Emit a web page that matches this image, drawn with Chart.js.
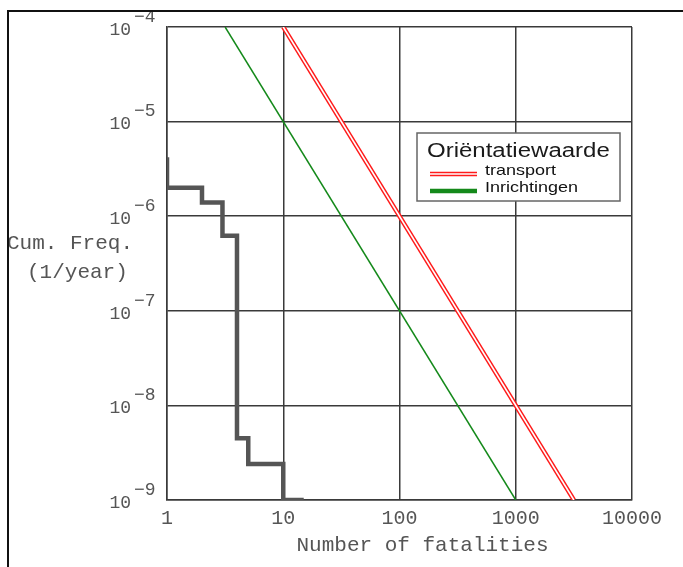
<!DOCTYPE html>
<html>
<head>
<meta charset="utf-8">
<script src="https://cdn.jsdelivr.net/npm/chart.js@4.4.1/dist/chart.umd.min.js"></script>
<style>
  html, body { margin: 0; padding: 0; background: #fff; }
  #wrap { position: relative; width: 683px; height: 567px; }
</style>
</head>
<body>
<div id="wrap"><canvas id="fn" width="683" height="567"></canvas></div>
<script>
// FN curve with orientation values (log-log)
const xTickValues = [1, 10, 100, 1000, 10000];
const xTickLabels = ['1', '10', '100', '1000', '10000'];
const yExponents = [-9, -8, -7, -6, -5, -4];

// cumulative frequency step curve (corner points, stepped 'after')
const stepN = [1, 2, 3, 4, 5, 10, 15];
const stepF = [4.2e-6, 2.0e-6, 1.4e-6, 6.2e-7, 4.5e-9, 2.4e-9, 1.0e-9];

// orientation value lines
const transportN = [10, 3162];
const transportF = [1e-4, 1e-9];
const inrichtingenN = [3.162, 1000];
const inrichtingenF = [1e-4, 1e-9];

const legendTitle = 'Oriëntatiewaarde';
const yTitleLines = ['Cum. Freq.', '(1/year)'];
const xTitle = 'Number of fatalities';

const MONO = '"Liberation Mono", "DejaVu Sans Mono", monospace';
const SANS = '"Liberation Sans", Arial, sans-serif';
const TEXT = '#555555';
const GRID = '#3a3a3a';
const RED = '#ff1a1a';
const GREEN = '#14891a';

function pts(xs, ys) {
    return xs.map((x, i) => ({ x: x, y: ys[i] }));
}

// the source text is a bit wide, so squeeze-free stretch for sans text
function wideText(ctx, txt, x, y, sx) {
    ctx.save();
    ctx.translate(x, y);
    ctx.scale(sx, 1);
    ctx.fillText(txt, 0, 0);
    ctx.restore();
}

const decorPlugin = {
    id: 'decor',
    afterDraw(chart) {
        const ctx = chart.ctx;
        const y = chart.scales.y;
        const x = chart.scales.x;
        ctx.save();

        // y tick labels 10^e
        ctx.fillStyle = TEXT;
        ctx.textBaseline = 'middle';
        yExponents.forEach(e => {
            const py = y.getPixelForValue(Math.pow(10, e));
            ctx.font = '18px ' + MONO;
            ctx.textAlign = 'right';
            ctx.fillText('10', 131, py + 3);
            ctx.textAlign = 'left';
            ctx.fillText('\u2212' + Math.abs(e), 134, py - 10);
        });

        // axis titles
        ctx.font = '21px ' + MONO;
        ctx.textAlign = 'left';
        ctx.fillText(yTitleLines[0], 7, 243);
        ctx.fillText(yTitleLines[1], 27, 272);
        ctx.textAlign = 'center';
        ctx.fillText(xTitle, (x.left + x.right) / 2 + 23, 545);

        // legend box
        const lx = 417, ly = 133, lw = 203, lh = 68;
        ctx.fillStyle = '#fff';
        ctx.fillRect(lx, ly, lw, lh);
        ctx.strokeStyle = '#666';
        ctx.lineWidth = 1.5;
        ctx.strokeRect(lx, ly, lw, lh);
        ctx.fillStyle = '#1a1a1a';
        ctx.textAlign = 'left';
        ctx.font = '20px ' + SANS;
        wideText(ctx, legendTitle, lx + 10, ly + 18, 1.2);

        const items = [
            { label: chart.data.datasets[2].label, y: ly + 40, c: RED, dbl: true },
            { label: chart.data.datasets[3].label, y: ly + 57, c: GREEN, dbl: false }
        ];
        items.forEach(it => {
            ctx.beginPath();
            ctx.moveTo(lx + 13, it.y + 1);
            ctx.lineTo(lx + 60, it.y + 1);
            ctx.strokeStyle = it.c;
            ctx.lineWidth = 4.5;
            ctx.stroke();
            if (it.dbl) {
                ctx.strokeStyle = '#fff';
                ctx.lineWidth = 1.6;
                ctx.stroke();
            }
            ctx.fillStyle = '#111';
            ctx.font = '15px ' + SANS;
            wideText(ctx, it.label, lx + 68, it.y - 2, 1.2);
        });

        // outer frame (top and left)
        ctx.strokeStyle = '#111';
        ctx.lineWidth = 2;
        ctx.beginPath();
        ctx.moveTo(683, 11);
        ctx.lineTo(8, 11);
        ctx.lineTo(8, 567);
        ctx.stroke();
        ctx.restore();
    }
};

new Chart(document.getElementById('fn'), {
    type: 'scatter',
    data: {
        datasets: [
            {
                label: 'FN curve',
                data: pts(stepN, stepF),
                showLine: true,
                stepped: 'after',
                borderColor: '#555555',
                borderWidth: 4.5,
                pointRadius: 0,
                borderCapStyle: 'butt',
                borderJoinStyle: 'miter'
            },
            {
                // white core of the double red line (drawn above the red one)
                label: 'transport-inner',
                data: pts(transportN, transportF),
                showLine: true,
                borderColor: '#ffffff',
                borderWidth: 1.6,
                pointRadius: 0
            },
            {
                label: 'transport',
                data: pts(transportN, transportF),
                showLine: true,
                borderColor: RED,
                borderWidth: 4.5,
                pointRadius: 0
            },
            {
                label: 'Inrichtingen',
                data: pts(inrichtingenN, inrichtingenF),
                showLine: true,
                borderColor: GREEN,
                borderWidth: 1.5,
                pointRadius: 0
            }
        ]
    },
    options: {
        responsive: false,
        animation: false,
        devicePixelRatio: 1,
        layout: { padding: { top: 27, right: 51, left: 0, bottom: 0 } },
        plugins: {
            legend: { display: false },
            tooltip: { enabled: false }
        },
        scales: {
            x: {
                type: 'logarithmic',
                min: 1,
                max: 10000,
                afterBuildTicks: s => { s.ticks = xTickValues.map(v => ({ value: v })); },
                afterFit: s => { s.height = 67; },
                ticks: {
                    callback: (v) => xTickLabels[xTickValues.indexOf(v)] ?? '',
                    font: { family: MONO, size: 20 },
                    color: TEXT,
                    padding: 7,
                    maxRotation: 0,
                    autoSkip: false
                },
                grid: { color: GRID, lineWidth: 1.5, drawTicks: false },
                border: { color: GRID, width: 1.5 }
            },
            y: {
                type: 'logarithmic',
                min: 1e-9,
                max: 1e-4,
                afterBuildTicks: s => { s.ticks = yExponents.map(e => ({ value: Math.pow(10, e) })); },
                afterFit: s => { s.width = 167; },
                ticks: { display: false },
                grid: { color: GRID, lineWidth: 1.5, drawTicks: false },
                border: { color: GRID, width: 1.5 }
            }
        }
    },
    plugins: [decorPlugin]
});
</script>
</body>
</html>
